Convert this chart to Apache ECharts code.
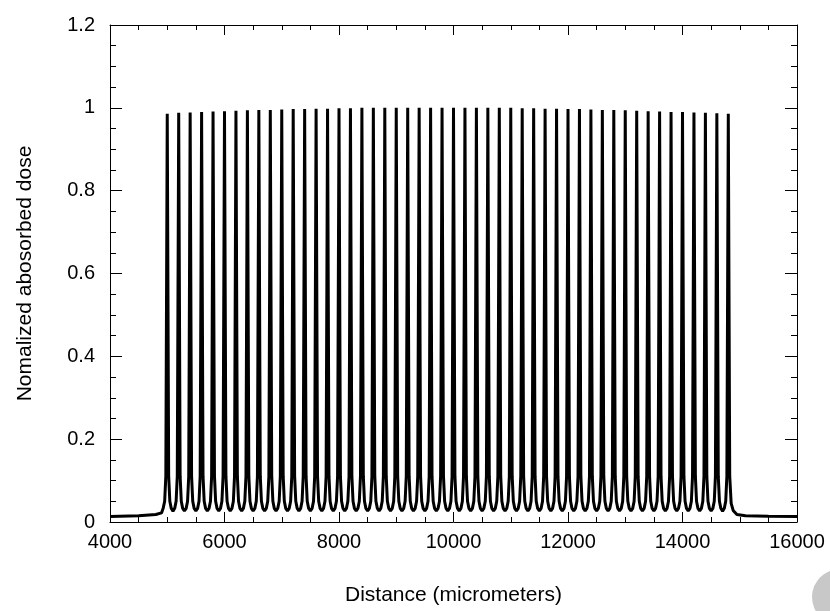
<!DOCTYPE html>
<html>
<head>
<meta charset="utf-8">
<title>Nomalized abosorbed dose</title>
<script src="https://cdn.jsdelivr.net/npm/echarts@6/dist/echarts.min.js"></script>
<style>
    html, body { margin: 0; padding: 0; background: #fff; }
    #chart { width: 830px; height: 611px; }
</style>
</head>
<body>
<div id="chart"></div>
<script>
// distance (micrometers): lead-in, one row per peak, tail
var distance = [
    4000, 4500, 4800, 4900,
    4930, 4955, 4975, 5000, 5025, 5045, 5070, 5100,
    5130, 5155, 5175, 5200, 5225, 5245, 5270, 5300,
    5330, 5355, 5375, 5400, 5425, 5445, 5470, 5500,
    5530, 5555, 5575, 5600, 5625, 5645, 5670, 5700,
    5730, 5755, 5775, 5800, 5825, 5845, 5870, 5900,
    5930, 5955, 5975, 6000, 6025, 6045, 6070, 6100,
    6130, 6155, 6175, 6200, 6225, 6245, 6270, 6300,
    6330, 6355, 6375, 6400, 6425, 6445, 6470, 6500,
    6530, 6555, 6575, 6600, 6625, 6645, 6670, 6700,
    6730, 6755, 6775, 6800, 6825, 6845, 6870, 6900,
    6930, 6955, 6975, 7000, 7025, 7045, 7070, 7100,
    7130, 7155, 7175, 7200, 7225, 7245, 7270, 7300,
    7330, 7355, 7375, 7400, 7425, 7445, 7470, 7500,
    7530, 7555, 7575, 7600, 7625, 7645, 7670, 7700,
    7730, 7755, 7775, 7800, 7825, 7845, 7870, 7900,
    7930, 7955, 7975, 8000, 8025, 8045, 8070, 8100,
    8130, 8155, 8175, 8200, 8225, 8245, 8270, 8300,
    8330, 8355, 8375, 8400, 8425, 8445, 8470, 8500,
    8530, 8555, 8575, 8600, 8625, 8645, 8670, 8700,
    8730, 8755, 8775, 8800, 8825, 8845, 8870, 8900,
    8930, 8955, 8975, 9000, 9025, 9045, 9070, 9100,
    9130, 9155, 9175, 9200, 9225, 9245, 9270, 9300,
    9330, 9355, 9375, 9400, 9425, 9445, 9470, 9500,
    9530, 9555, 9575, 9600, 9625, 9645, 9670, 9700,
    9730, 9755, 9775, 9800, 9825, 9845, 9870, 9900,
    9930, 9955, 9975, 10000, 10025, 10045, 10070, 10100,
    10130, 10155, 10175, 10200, 10225, 10245, 10270, 10300,
    10330, 10355, 10375, 10400, 10425, 10445, 10470, 10500,
    10530, 10555, 10575, 10600, 10625, 10645, 10670, 10700,
    10730, 10755, 10775, 10800, 10825, 10845, 10870, 10900,
    10930, 10955, 10975, 11000, 11025, 11045, 11070, 11100,
    11130, 11155, 11175, 11200, 11225, 11245, 11270, 11300,
    11330, 11355, 11375, 11400, 11425, 11445, 11470, 11500,
    11530, 11555, 11575, 11600, 11625, 11645, 11670, 11700,
    11730, 11755, 11775, 11800, 11825, 11845, 11870, 11900,
    11930, 11955, 11975, 12000, 12025, 12045, 12070, 12100,
    12130, 12155, 12175, 12200, 12225, 12245, 12270, 12300,
    12330, 12355, 12375, 12400, 12425, 12445, 12470, 12500,
    12530, 12555, 12575, 12600, 12625, 12645, 12670, 12700,
    12730, 12755, 12775, 12800, 12825, 12845, 12870, 12900,
    12930, 12955, 12975, 13000, 13025, 13045, 13070, 13100,
    13130, 13155, 13175, 13200, 13225, 13245, 13270, 13300,
    13330, 13355, 13375, 13400, 13425, 13445, 13470, 13500,
    13530, 13555, 13575, 13600, 13625, 13645, 13670, 13700,
    13730, 13755, 13775, 13800, 13825, 13845, 13870, 13900,
    13930, 13955, 13975, 14000, 14025, 14045, 14070, 14100,
    14130, 14155, 14175, 14200, 14225, 14245, 14270, 14300,
    14330, 14355, 14375, 14400, 14425, 14445, 14470, 14500,
    14530, 14555, 14575, 14600, 14625, 14645, 14670, 14700,
    14730, 14755, 14775, 14800, 14825, 14850, 14885,
    14950, 15100, 15500, 16000
];

// normalized dose at each distance above (same rows)
var dose = [
    0.013, 0.015, 0.018, 0.022,
    0.034, 0.05, 0.11, 0.986, 0.11, 0.05, 0.033, 0.026,
    0.033, 0.05, 0.11, 0.988, 0.11, 0.05, 0.033, 0.027,
    0.033, 0.05, 0.11, 0.989, 0.11, 0.05, 0.033, 0.027,
    0.033, 0.05, 0.11, 0.990, 0.11, 0.05, 0.033, 0.027,
    0.033, 0.05, 0.11, 0.991, 0.11, 0.05, 0.033, 0.027,
    0.033, 0.05, 0.11, 0.992, 0.11, 0.05, 0.033, 0.027,
    0.033, 0.05, 0.11, 0.993, 0.11, 0.05, 0.033, 0.027,
    0.033, 0.05, 0.11, 0.994, 0.11, 0.05, 0.033, 0.027,
    0.033, 0.05, 0.11, 0.995, 0.11, 0.05, 0.033, 0.027,
    0.033, 0.05, 0.11, 0.995, 0.11, 0.05, 0.033, 0.027,
    0.033, 0.05, 0.11, 0.996, 0.11, 0.05, 0.033, 0.027,
    0.033, 0.05, 0.11, 0.997, 0.11, 0.05, 0.033, 0.027,
    0.033, 0.05, 0.11, 0.997, 0.11, 0.05, 0.033, 0.027,
    0.033, 0.05, 0.11, 0.998, 0.11, 0.05, 0.033, 0.027,
    0.033, 0.05, 0.11, 0.998, 0.11, 0.05, 0.033, 0.027,
    0.033, 0.05, 0.11, 0.999, 0.11, 0.05, 0.033, 0.027,
    0.033, 0.05, 0.11, 0.999, 0.11, 0.05, 0.033, 0.027,
    0.033, 0.05, 0.11, 1.000, 0.11, 0.05, 0.033, 0.027,
    0.033, 0.05, 0.11, 1.000, 0.11, 0.05, 0.033, 0.027,
    0.033, 0.05, 0.11, 1.000, 0.11, 0.05, 0.033, 0.027,
    0.033, 0.05, 0.11, 1.000, 0.11, 0.05, 0.033, 0.027,
    0.033, 0.05, 0.11, 1.000, 0.11, 0.05, 0.033, 0.027,
    0.033, 0.05, 0.11, 1.000, 0.11, 0.05, 0.033, 0.027,
    0.033, 0.05, 0.11, 1.000, 0.11, 0.05, 0.033, 0.027,
    0.033, 0.05, 0.11, 1.000, 0.11, 0.05, 0.033, 0.027,
    0.033, 0.05, 0.11, 1.000, 0.11, 0.05, 0.033, 0.027,
    0.033, 0.05, 0.11, 1.000, 0.11, 0.05, 0.033, 0.027,
    0.033, 0.05, 0.11, 1.000, 0.11, 0.05, 0.033, 0.027,
    0.033, 0.05, 0.11, 1.000, 0.11, 0.05, 0.033, 0.027,
    0.033, 0.05, 0.11, 1.000, 0.11, 0.05, 0.033, 0.027,
    0.033, 0.05, 0.11, 1.000, 0.11, 0.05, 0.033, 0.027,
    0.033, 0.05, 0.11, 0.999, 0.11, 0.05, 0.033, 0.027,
    0.033, 0.05, 0.11, 0.999, 0.11, 0.05, 0.033, 0.027,
    0.033, 0.05, 0.11, 0.998, 0.11, 0.05, 0.033, 0.027,
    0.033, 0.05, 0.11, 0.998, 0.11, 0.05, 0.033, 0.027,
    0.033, 0.05, 0.11, 0.997, 0.11, 0.05, 0.033, 0.027,
    0.033, 0.05, 0.11, 0.997, 0.11, 0.05, 0.033, 0.027,
    0.033, 0.05, 0.11, 0.996, 0.11, 0.05, 0.033, 0.027,
    0.033, 0.05, 0.11, 0.995, 0.11, 0.05, 0.033, 0.027,
    0.033, 0.05, 0.11, 0.995, 0.11, 0.05, 0.033, 0.027,
    0.033, 0.05, 0.11, 0.994, 0.11, 0.05, 0.033, 0.027,
    0.033, 0.05, 0.11, 0.993, 0.11, 0.05, 0.033, 0.027,
    0.033, 0.05, 0.11, 0.992, 0.11, 0.05, 0.033, 0.027,
    0.033, 0.05, 0.11, 0.991, 0.11, 0.05, 0.033, 0.027,
    0.033, 0.05, 0.11, 0.990, 0.11, 0.05, 0.033, 0.027,
    0.033, 0.05, 0.11, 0.990, 0.11, 0.05, 0.033, 0.027,
    0.033, 0.05, 0.11, 0.989, 0.11, 0.05, 0.033, 0.027,
    0.033, 0.05, 0.11, 0.988, 0.11, 0.05, 0.033, 0.027,
    0.033, 0.05, 0.11, 0.987, 0.11, 0.05, 0.033, 0.026,
    0.033, 0.05, 0.11, 0.986, 0.11, 0.045, 0.028,
    0.018, 0.015, 0.014, 0.013
];

// axis ticks
var xTicks = [4000, 6000, 8000, 10000, 12000, 14000, 16000];
var yTicks = [0, 0.2, 0.4, 0.6, 0.8, 1, 1.2];

var font = 'Liberation Sans, Arial, sans-serif';

var points = [];
for (var i = 0; i < distance.length; i++) {
    points.push([distance[i], dose[i]]);
}

function frameAxis(pos, ticks, showLabel, tickLen, minorLen) {
    return {
        type: 'value',
        position: pos,
        min: ticks[0],
        max: ticks[ticks.length - 1],
        interval: ticks[1] - ticks[0],
        axisLine: { show: true, onZero: false, lineStyle: { color: '#000', width: 1 } },
        axisTick: { show: true, inside: true, length: tickLen, lineStyle: { color: '#000', width: 1 } },
        minorTick: { show: true, splitNumber: 4, length: minorLen, lineStyle: { color: '#000', width: 1 } },
        splitLine: { show: false },
        axisLabel: {
            show: showLabel, color: '#000', fontSize: 20, fontFamily: font,
            formatter: function (v) { return String(v); }
        },
        nameTextStyle: { color: '#000', fontSize: 21, fontFamily: font }
    };
}

var chart = echarts.init(document.getElementById('chart'));

var bottomAxis = frameAxis('bottom', xTicks, true, 10, 5);
bottomAxis.axisLabel.margin = 10;
bottomAxis.name = 'Distance (micrometers)';
bottomAxis.nameLocation = 'middle';
bottomAxis.nameGap = 63;

var leftAxis = frameAxis('left', yTicks, true, 12, 6);
leftAxis.axisLabel.margin = 15;
leftAxis.name = 'Nomalized abosorbed dose';
leftAxis.nameLocation = 'middle';
leftAxis.nameGap = 74;

var option = {
    backgroundColor: '#fff',
    animation: false,
    grid: { left: 110, right: 33, top: 25, bottom: 88, containLabel: false },
    xAxis: [bottomAxis, frameAxis('top', xTicks, false, 10, 5)],
    yAxis: [leftAxis, frameAxis('right', yTicks, false, 12, 6)],
    graphic: [{
        type: 'circle',
        shape: { cx: 840, cy: 597, r: 28 },
        style: { fill: '#c8c8c8' },
        silent: true
    }],
    series: [{
        type: 'line',
        xAxisIndex: 0,
        yAxisIndex: 0,
        showSymbol: false,
        smooth: false,
        lineStyle: { color: '#000', width: 3 },
        data: points
    }]
};

chart.setOption(option);
</script>
</body>
</html>
